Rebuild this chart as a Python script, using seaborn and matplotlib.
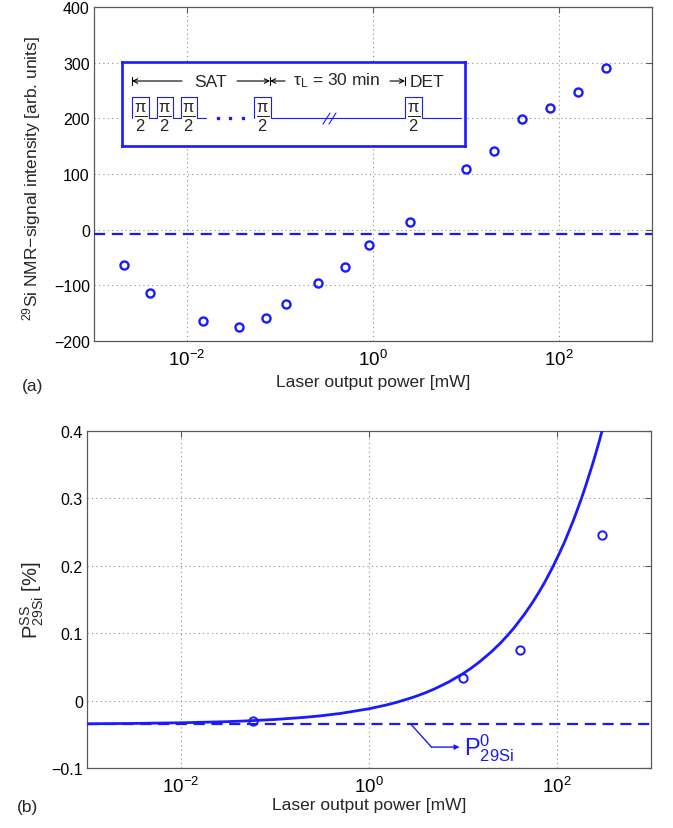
import matplotlib
matplotlib.use("Agg")
import matplotlib.pyplot as plt
import numpy as np
import pandas as pd
import seaborn as sns
from matplotlib.ticker import FixedLocator, FuncFormatter, NullLocator

# ---------------- data ----------------
# panel (a): 29Si NMR signal vs laser power
power_a = [0.0021, 0.0040, 0.015, 0.036, 0.071, 0.117, 0.257, 0.50, 0.91,
           2.5, 10, 20, 40, 80, 160, 320]
signal_a = [-63, -114, -164, -174, -159, -134, -96, -67, -28,
            13, 109, 141, 198, 219, 248, 291]
baseline_a = -8

# panel (b): steady-state polarisation vs laser power
power_b = [0.058, 10, 40, 300]
pol_b = [-0.031, 0.033, 0.075, 0.246]
fit_power = [0.001, 0.003, 0.01, 0.03, 0.05, 0.1, 0.2, 0.3, 0.5, 1, 1.5, 2,
             3, 4, 5, 7, 10, 12, 15, 20, 25, 30, 35, 45, 55, 65, 75, 90, 105,
             120, 135, 150, 165, 180, 200, 220, 240, 260, 280, 300, 320, 340]
fit_pol = [-0.0344, -0.0339, -0.0329, -0.0313, -0.0301, -0.0280, -0.0250,
           -0.0227, -0.0190, -0.0121, -0.0068, -0.0023, 0.0053, 0.0117,
           0.0175, 0.0274, 0.040, 0.0474, 0.0575, 0.0723, 0.0853, 0.0972,
           0.1081, 0.128, 0.1458, 0.162, 0.1771, 0.198, 0.2174, 0.235,
           0.2523, 0.268, 0.2837, 0.298, 0.3168, 0.335, 0.3516, 0.368,
           0.3836, 0.399, 0.4135, 0.428]
p0_b = -0.035

xticks = [1e-2, 1, 1e2]
yticks_a = [-200, -100, 0, 100, 200, 300, 400]
yticks_b = [-0.1, 0, 0.1, 0.2, 0.3, 0.4]

# ---------------- style ----------------
sns.set_theme(style="white")
plt.rcParams["font.family"] = ["Liberation Sans", "DejaVu Sans"]
plt.rcParams["mathtext.fontset"] = "custom"
plt.rcParams["mathtext.rm"] = "Liberation Sans"
plt.rcParams["mathtext.it"] = "Liberation Sans:italic"
plt.rcParams["mathtext.bf"] = "Liberation Sans:bold"
plt.rcParams["axes.unicode_minus"] = True

BLUE = "#1a1aff"
SPINE = "0.35"
W, H = 673, 829

fig = plt.figure(figsize=(W / 100, H / 100), dpi=100)
ax1 = fig.add_axes([94 / W, 1 - 342 / H, 558 / W, 334 / H])
ax2 = fig.add_axes([87 / W, 1 - 769 / H, 564 / W, 337 / H])


def style_axes(ax, yticks, fmt):
    ax.set_xscale("log")
    ax.set_xlim(1e-3, 1e3)
    ax.xaxis.set_major_locator(FixedLocator(xticks))
    ax.xaxis.set_minor_locator(NullLocator())
    ax.yaxis.set_major_locator(FixedLocator(yticks))
    ax.yaxis.set_major_formatter(FuncFormatter(fmt))
    ax.set_ylim(yticks[0], yticks[-1])
    ax.grid(True, which="major", ls=(0, (1, 3)), color="0.55", lw=0.8)
    ax.set_axisbelow(True)
    for s in ax.spines.values():
        s.set_color(SPINE)
        s.set_linewidth(0.9)
        s.set_visible(True)
    ax.tick_params(axis="both", which="major", direction="in", length=4,
                   width=0.8, color=SPINE, top=True, right=True,
                   labelsize=11.5, labelcolor="black")
    ax.tick_params(axis="x", pad=6, labelsize=13.5)
    ax.tick_params(axis="y", pad=3)


style_axes(ax1, yticks_a, lambda v, p: f"{v:g}".replace("-", "\u2212"))
style_axes(ax2, yticks_b, lambda v, p: f"{v:g}".replace("-", "\u2212"))

# ---------------- panel (a) ----------------
df_a = pd.DataFrame({"power": power_a, "signal": signal_a})
sns.lineplot(data=df_a, x="power", y="signal", ax=ax1, sort=False,
             estimator=None, linestyle="", marker="o", markersize=5.8,
             markerfacecolor="none", markeredgecolor=BLUE,
             markeredgewidth=1.7, color=BLUE, zorder=4)
ax1.axhline(baseline_a, color=BLUE, lw=1.6, dashes=(5, 3), zorder=3)
ax1.set_xlim(1e-3, 1e3)
ax1.set_ylim(yticks_a[0], yticks_a[-1])
ax1.set_xlabel("Laser output power [mW]", fontsize=12.5)
ax1.set_ylabel("$^{29}$Si NMR\u2212signal intensity [arb. units]", fontsize=12.5)
ax1.xaxis.set_label_coords(0.5, -0.098)
ax1.yaxis.set_label_coords(-0.092, 0.49)
fig.text(33 / W, 1 - 386 / H, "(a)", fontsize=12.5, ha="center", va="center")

# inset pulse-sequence diagram
ins = ax1.inset_axes([0.0502, 0.5838, 0.6147, 0.2515])
ins.set_xlim(0, 343)
ins.set_ylim(0, 84)
ins.set_xticks([])
ins.set_yticks([])
ins.set_facecolor("white")
for s in ins.spines.values():
    s.set_color(BLUE)
    s.set_linewidth(1.9)
ins.grid(False)

lw_thin = 0.8
vr = 65
for u in (10, 148, 283):
    ins.plot([u, u], [vr - 4, vr + 4], color="black", lw=lw_thin)
arrows = [((60, vr), (10, vr)), ((115, vr), (148, vr)),
          ((163, vr), (148, vr)), ((268, vr), (283, vr))]
for start, end in arrows:
    ins.annotate("", xy=end, xytext=start,
                 arrowprops=dict(arrowstyle="->", lw=lw_thin, color="black",
                                 shrinkA=0, shrinkB=0, mutation_scale=8))
ins.text(88, vr, "SAT", fontsize=12.5, ha="center", va="center")
ins.text(171, vr + 1.5, r"$\mathrm{\tau_{L}}$ = 30 min", fontsize=12.5,
         ha="left", va="center")
ins.text(288, vr, "DET", fontsize=12.5, ha="left", va="center")

b0, b1 = 27.7, 49.3
pulses = [(10.3, 27.3), (34.7, 50.7), (58.7, 75.3), (132, 148.7), (283, 299.7)]
seg1_x, seg1_y = [], []
for (l, r) in pulses[:3]:
    seg1_x += [l, l, r, r]
    seg1_y += [b0, b1, b1, b0]
seg1_x.append(84)
seg1_y.append(b0)
ins.plot(seg1_x, seg1_y, color=BLUE, lw=lw_thin)
seg2_x, seg2_y = [], []
for (l, r) in pulses[3:]:
    seg2_x += [l, l, r, r]
    seg2_y += [b0, b1, b1, b0]
seg2_x.append(338.7)
seg2_y.append(b0)
ins.plot(seg2_x, seg2_y, color=BLUE, lw=lw_thin)
ins.plot([96, 108, 121], [b0] * 3, ls="", marker="s", ms=2, color=BLUE)
ins.plot([201, 208], [22, 33], color=BLUE, lw=lw_thin)
ins.plot([207, 214], [22, 33], color=BLUE, lw=lw_thin)
for (l, r) in pulses:
    ins.text((l + r) / 2, 29, r"$\frac{\mathrm{\pi}}{\mathrm{2}}$", fontsize=17,
             ha="center", va="center")

# ---------------- panel (b) ----------------
df_fit = pd.DataFrame({"power": fit_power, "pol": fit_pol})
sns.lineplot(data=df_fit, x="power", y="pol", ax=ax2, sort=False,
             estimator=None, color=BLUE, lw=2.0, zorder=3)
ax2.axhline(p0_b, color=BLUE, lw=1.6, dashes=(5, 3), zorder=3)
df_b = pd.DataFrame({"power": power_b, "pol": pol_b})
sns.lineplot(data=df_b, x="power", y="pol", ax=ax2, sort=False,
             estimator=None, linestyle="", marker="o", markersize=6,
             markerfacecolor="none", markeredgecolor=BLUE,
             markeredgewidth=1.4, color=BLUE, zorder=4)
ax2.set_xlim(1e-3, 1e3)
ax2.set_ylim(yticks_b[0], yticks_b[-1])
ax2.set_xlabel("Laser output power [mW]", fontsize=12.5)
ax2.set_ylabel(r"$\mathregular{P^{SS}_{29Si}}$ [%]", fontsize=14.5)
ax2.xaxis.set_label_coords(0.5, -0.085)
ax2.yaxis.set_label_coords(-0.072, 0.5)
fig.text(28 / W, 1 - 808 / H, "(b)", fontsize=12.5, ha="center", va="center")

# P0 label with leader
lead_x = [2.79, 4.62]
lead_y = [p0_b, -0.069]
ax2.plot(lead_x, lead_y, color=BLUE, lw=1.0)
ax2.annotate("", xy=(9.2, -0.069), xytext=(4.62, -0.069),
             arrowprops=dict(arrowstyle="-|>", lw=1.0, color=BLUE,
                             shrinkA=0, shrinkB=0, mutation_scale=7))
ax2.text(10.3, -0.069, r"$\mathregular{P^{0}_{29Si}}$", fontsize=17,
         color=BLUE, ha="left", va="center")

for ax in (ax1, ax2):
    leg = ax.get_legend()
    if leg is not None:
        leg.remove()

fig.savefig("out.png", dpi=100)
